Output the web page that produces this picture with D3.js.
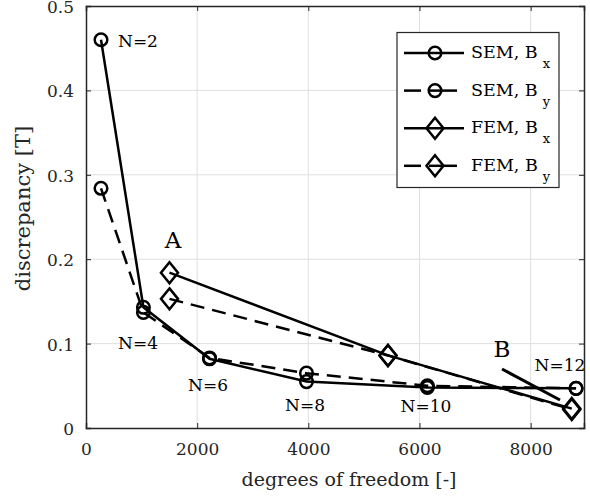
<!DOCTYPE html>
<html><head><meta charset="utf-8">
<script src="https://cdn.jsdelivr.net/npm/d3@7"></script>
<style>body{margin:0;background:#fff}svg{display:block}svg text{font-family:"DejaVu Serif","Liberation Serif",serif !important}</style>
</head><body><div id="c"></div>
<script>
const dofSEM = [270, 1033, 2223, 3967, 6142, 8817];
const semBx = [0.460, 0.143, 0.082, 0.055, 0.048, 0.047];
const semBy = [0.284, 0.137, 0.083, 0.065, 0.050, 0.047];
const dofFEM = [1502, 5433, 8740];
const femBx = [0.184, 0.086, 0.023];
const femBy = [0.153, 0.086, 0.022];
const nLabels = ["N=2","N=4","N=6","N=8","N=10","N=12"];
const xTicks = [0, 2000, 4000, 6000, 8000];
const yTicks = [0, 0.1, 0.2, 0.3, 0.4, 0.5];

const W = 590, H = 497;
const m = {l:86, r:6, t:6, b:69};
const svg = d3.select("#c").append("svg").attr("width", W).attr("height", H);
const x = d3.scaleLinear().domain([0, 8960]).range([m.l, W - m.r]);
const y = d3.scaleLinear().domain([0, 0.5]).range([H - m.b, m.t]);
const axisCol = "#262626";

// grid
svg.append("g").selectAll("line").data(xTicks.slice(1)).join("line")
  .attr("x1", d => x(d)).attr("x2", d => x(d)).attr("y1", y(0)).attr("y2", y(0.5))
  .attr("stroke", "#dfdfdf").attr("stroke-width", 1);
svg.append("g").selectAll("line").data(yTicks.slice(1, -1)).join("line")
  .attr("y1", d => y(d)).attr("y2", d => y(d)).attr("x1", x.range()[0]).attr("x2", x.range()[1])
  .attr("stroke", "#dfdfdf").attr("stroke-width", 1);

// axes
const xAxis = svg.append("g").attr("transform", `translate(0,${y(0)})`)
  .call(d3.axisBottom(x).tickValues(xTicks).tickSize(-5).tickPadding(15).tickFormat(d3.format("d")));
const yAxis = svg.append("g").attr("transform", `translate(${x(0)},0)`)
  .call(d3.axisLeft(y).tickValues(yTicks).tickSize(-5).tickPadding(12).tickFormat(d => d === 0 ? "0" : d3.format(".1f")(d)));
const xTop = svg.append("g").attr("transform", `translate(0,${y(0.5)})`)
  .call(d3.axisTop(x).tickValues(xTicks).tickSize(-5).tickFormat(""));
const yRight = svg.append("g").attr("transform", `translate(${x.range()[1]},0)`)
  .call(d3.axisRight(y).tickValues(yTicks).tickSize(-5).tickFormat(""));
[xAxis, yAxis, xTop, yRight].forEach(g => {
  g.attr("font-family", null);
  g.select(".domain").attr("stroke", axisCol).attr("stroke-width", 1.5);
  g.selectAll(".tick line").attr("stroke", axisCol).attr("stroke-width", 1);
  g.selectAll(".tick text").attr("fill", axisCol).style("font-size", "17px");
});
yAxis.selectAll(".tick text").attr("dy", "0.38em");

// axis labels
svg.append("text").attr("x", 349).attr("y", 486).attr("text-anchor", "middle")
  .attr("fill", axisCol).style("font-size", "19px").text("degrees of freedom [-]");
svg.append("text").attr("transform", `translate(30,${y(0.26)}) rotate(-90)`).attr("text-anchor", "middle")
  .attr("fill", axisCol).style("font-size", "21px").text("discrepancy [T]");

const lw = 2.5;
function drawSeries(xs, ys, dashed, marker) {
  const pts = xs.map((d, i) => [x(d), y(ys[i])]);
  svg.append("path").attr("d", d3.line()(pts)).attr("fill", "none").attr("stroke", "#000")
    .attr("stroke-width", lw).attr("stroke-dasharray", dashed ? "14,8" : null);
  pts.forEach(p => drawMarker(p[0], p[1], marker));
}
function drawMarker(px, py, marker) {
  if (marker === "o") {
    svg.append("circle").attr("cx", px).attr("cy", py).attr("r", 6.3)
      .attr("fill", "none").attr("stroke", "#000").attr("stroke-width", lw);
  } else {
    const hw = 8.5, hh = 10.5;
    svg.append("path").attr("d", `M${px},${py-hh}L${px+hw},${py}L${px},${py+hh}L${px-hw},${py}Z`)
      .attr("fill", "none").attr("stroke", "#000").attr("stroke-width", lw);
  }
}
drawSeries(dofSEM, semBx, false, "o");
drawSeries(dofSEM, semBy, true, "o");
drawSeries(dofFEM, femBx, false, "d");
drawSeries(dofFEM, femBy, true, "d");

// N labels
const labPos = [[118, 47, "start"], [138, 349, "middle"], [208, 391, "middle"], [305, 411, "middle"], [426, 412, "middle"], [560, 371, "middle"]];
nLabels.forEach((t, i) => {
  svg.append("text").attr("x", labPos[i][0]).attr("y", labPos[i][1]).attr("text-anchor", labPos[i][2])
    .style("font-size", "17px").attr("fill", "#000").text(t);
});
svg.append("text").attr("x", 173).attr("y", 248).attr("text-anchor", "middle").style("font-size", "23px").text("A");
svg.append("text").attr("x", 502).attr("y", 357).attr("text-anchor", "middle").style("font-size", "23px").text("B");
svg.append("line").attr("x1", 502).attr("y1", 369).attr("x2", 560).attr("y2", 400)
  .attr("stroke", "#000").attr("stroke-width", 3);

// legend
const lg = svg.append("g");
lg.append("rect").attr("x", 397).attr("y", 32.5).attr("width", 162).attr("height", 155)
  .attr("fill", "#fff").attr("stroke", axisCol).attr("stroke-width", 1.2);
const legItems = [
  {name: "SEM, B", sub: "x", dash: false, mk: "o"},
  {name: "SEM, B", sub: "y", dash: true, mk: "o"},
  {name: "FEM, B", sub: "x", dash: false, mk: "d"},
  {name: "FEM, B", sub: "y", dash: true, mk: "d"}
];
legItems.forEach((it, i) => {
  const yy = 53 + i * 37.6;
  if (it.dash) {
    lg.append("line").attr("x1", 404).attr("x2", 421).attr("y1", yy).attr("y2", yy).attr("stroke", "#000").attr("stroke-width", lw);
    lg.append("line").attr("x1", 429).attr("x2", 457).attr("y1", yy).attr("y2", yy).attr("stroke", "#000").attr("stroke-width", lw);
  } else {
    lg.append("line").attr("x1", 404).attr("x2", 464).attr("y1", yy).attr("y2", yy).attr("stroke", "#000").attr("stroke-width", lw);
  }
  drawMarker(435, yy, it.mk);
  const t = lg.append("text").attr("x", 471).attr("y", yy + 5).style("font-size", "17.5px").attr("fill", "#000");
  t.append("tspan").text(it.name);
  t.append("tspan").attr("dx", 5).attr("dy", 10).style("font-size", "13px").text(it.sub);
});
</script></body></html>
